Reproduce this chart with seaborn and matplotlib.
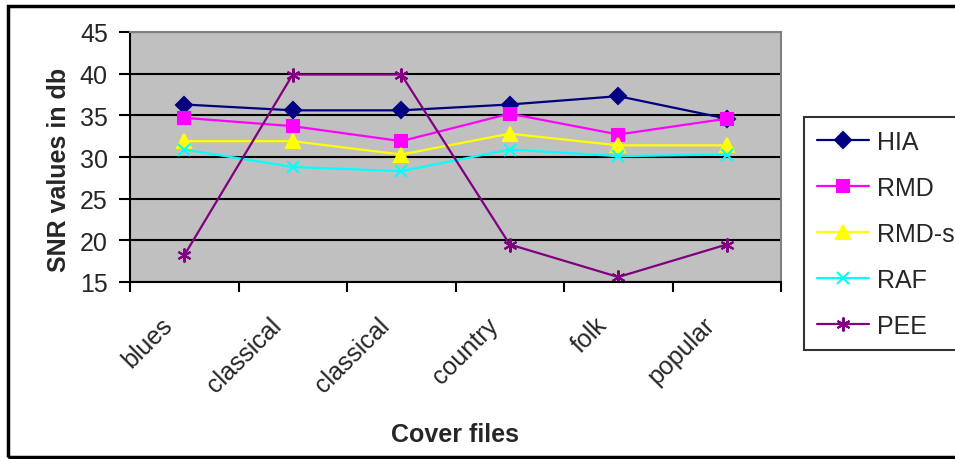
import numpy as np
import pandas as pd
import seaborn as sns
import matplotlib.pyplot as plt
from matplotlib.patches import Rectangle
from matplotlib.transforms import ScaledTranslation

# values
cover_files = ['blues', 'classical', 'classical', 'country', 'folk', 'popular']
hia = [36.3, 35.6, 35.6, 36.3, 37.3, 34.6]
rmd = [34.7, 33.7, 31.9, 35.2, 32.7, 34.6]
rmd_s = [31.9, 31.9, 30.3, 32.8, 31.4, 31.4]
raf = [30.9, 28.8, 28.3, 30.9, 30.1, 30.3]
pee = [18.2, 39.9, 39.9, 19.5, 15.6, 19.5]

series = {'HIA': hia, 'RMD': rmd, 'RMD-s': rmd_s, 'RAF': raf, 'PEE': pee}
colors = {'HIA': '#000080', 'RMD': '#FF00FF', 'RMD-s': '#FFFF00', 'RAF': '#00FFFF', 'PEE': '#800080'}
markers = {'HIA': 'D', 'RMD': 's', 'RMD-s': '^', 'RAF': 'x', 'PEE': (6, 2, 0)}
msizes = {'HIA': 8, 'RMD': 9, 'RMD-s': 10, 'RAF': 8, 'PEE': 10}

sns.set_style('white')
plt.rcParams['font.family'] = ['Liberation Sans', 'DejaVu Sans']

fig = plt.figure(figsize=(9.55, 4.6), dpi=100)
ax = fig.add_axes([130 / 955, 1 - 283 / 460, 651 / 955, 250 / 460])
ax.set_facecolor('#C0C0C0')

pos = np.arange(len(cover_files))
for name, vals in series.items():
    df = pd.DataFrame({'pos': pos, 'snr': vals})
    sns.lineplot(data=df, x='pos', y='snr', ax=ax, color=colors[name], marker=markers[name],
                 markersize=msizes[name], markeredgecolor=colors[name], markerfacecolor=colors[name],
                 markeredgewidth=1.5, linewidth=1.6, label=name)

ax.set_xlim(-0.5, 5.5)
ax.set_ylim(15, 45)
ax.set_yticks(range(15, 50, 5))
ax.yaxis.grid(True, color='black', linewidth=1.5)
ax.set_axisbelow(True)

ax.set_xticks(pos)
ax.set_xticks(np.arange(-0.5, 6, 1), minor=True)
ax.tick_params(axis='x', which='major', bottom=False, length=0, pad=22)
ax.tick_params(axis='x', which='minor', bottom=True, length=7, width=1.5, color='black', direction='out')
ax.tick_params(axis='y', left=True, length=8, width=1.5, color='black', direction='out', labelsize=18, pad=8)
ax.set_xticklabels(cover_files, rotation=45, ha='right', rotation_mode='anchor', fontsize=18)
# labels sit a bit left of the category centre, like the original
shift = ScaledTranslation(-24 / 100, 0, fig.dpi_scale_trans)
for lab in ax.get_xticklabels():
    lab.set_transform(lab.get_transform() + shift)

for s in ['left', 'bottom']:
    ax.spines[s].set_color('black')
    ax.spines[s].set_linewidth(1.5)
for s in ['top', 'right']:
    ax.spines[s].set_color('#808080')
    ax.spines[s].set_linewidth(1.5)

ax.set_xlabel('Cover files', fontsize=18, fontweight='bold')
ax.set_ylabel('SNR values in db', fontsize=18, fontweight='bold')
ax.xaxis.set_label_coords(0.499, -0.56)
ax.yaxis.set_label_coords(-0.09, 0.452)

leg = ax.legend(loc='upper left', bbox_to_anchor=(804 / 955, 1 - 118 / 460), bbox_transform=fig.transFigure,
                fontsize=18, frameon=True, fancybox=False, edgecolor='black', handlelength=2.1,
                handletextpad=0.3, borderpad=0.5, labelspacing=0.88, borderaxespad=0)
leg.get_frame().set_linewidth(1.5)

fig.patches.append(Rectangle((8 / 955, 2 / 460), 950 / 955, 451 / 460, transform=fig.transFigure,
                             fill=False, edgecolor='black', linewidth=2.5))

fig.savefig('out.png', dpi=100)
